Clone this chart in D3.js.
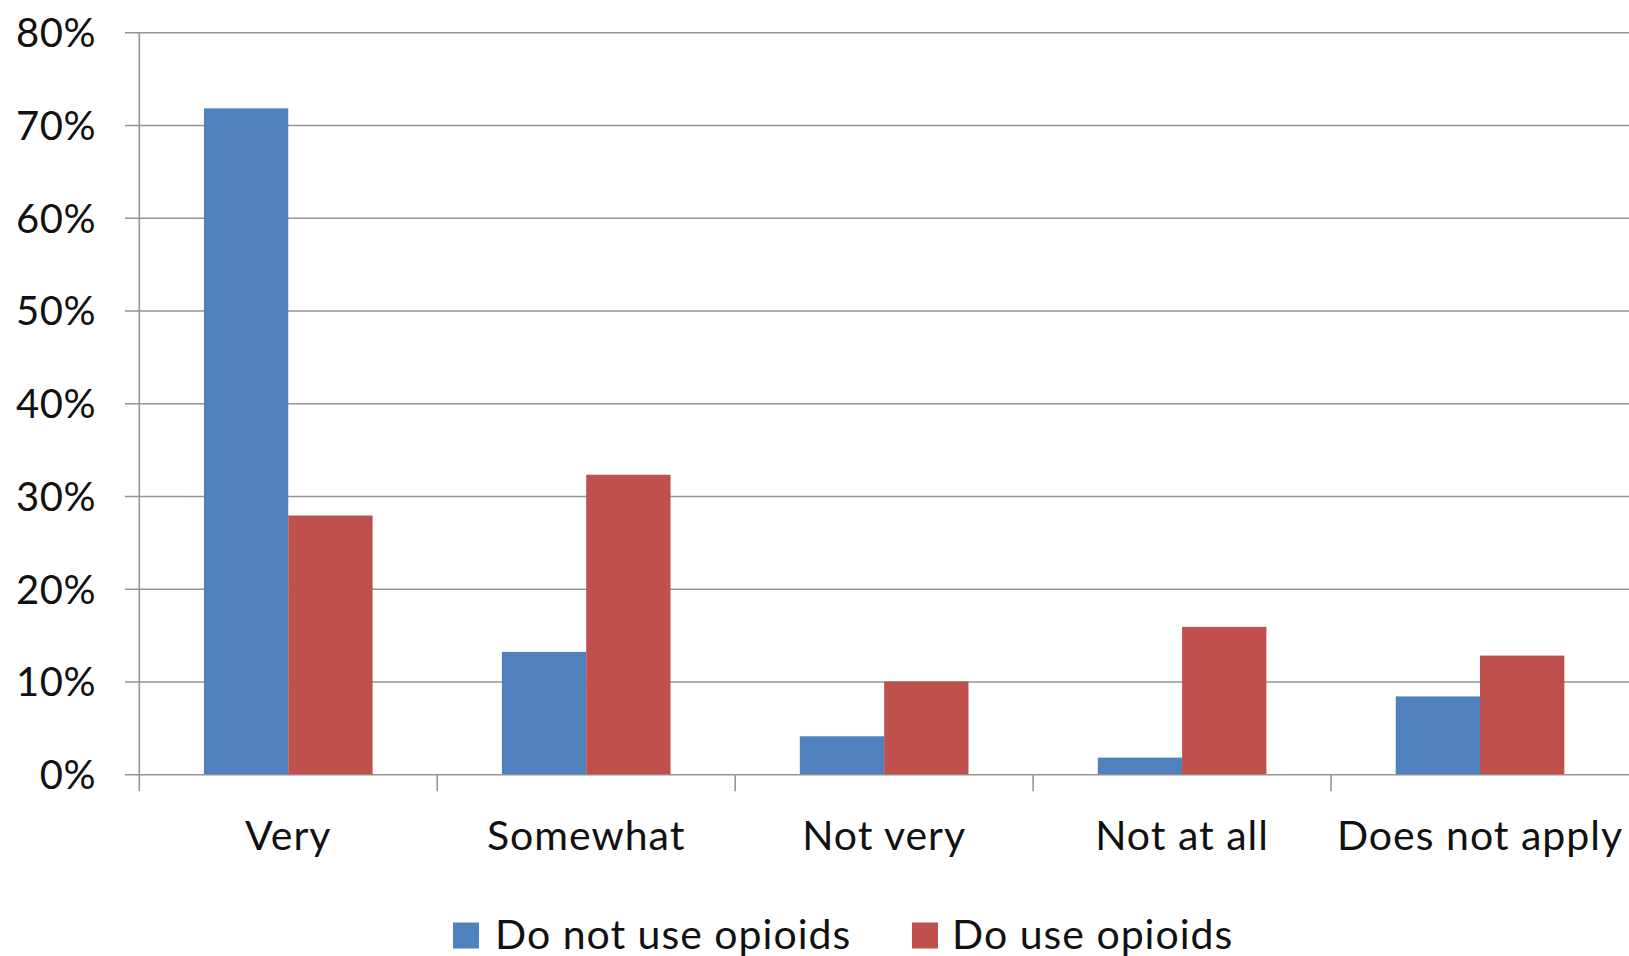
<!DOCTYPE html>
<html>
<head>
<meta charset="utf-8">
<script src="https://cdn.jsdelivr.net/npm/d3@7"></script>
<style>
  html, body { margin: 0; padding: 0; background: #fff; }
  svg { display: block; }
  text { font-family: Lato, "Open Sans", sans-serif; fill: #111; }
</style>
</head>
<body>
<svg id="chart" width="1629" height="956"></svg>
<script>
// Survey answer categories
const categories = ["Very", "Somewhat", "Not very", "Not at all", "Does not apply"];
// Share of respondents (%) per answer
const doNotUseOpioids = [71.8, 13.2, 4.1, 1.8, 8.4];
const doUseOpioids = [27.9, 32.3, 10.0, 15.9, 12.8];
const seriesNames = ["Do not use opioids", "Do use opioids"];
const seriesColors = ["#4F81BD", "#C0504D"];
const yTicks = [0, 10, 20, 30, 40, 50, 60, 70, 80];

const W = 1629, H = 956;
const plotLeft = 139.3, plotRight = 1629, plotTop = 32.3, plotBottom = 774.3;
const fontSize = 41;
const letterSpacing = 1;
const gridColor = "#959595";

const svg = d3.select("#chart");

const x0 = d3.scaleBand().domain(categories).range([plotLeft, plotRight]).padding(0);
const bw = x0.bandwidth();
const x1 = d3.scaleBand().domain(seriesNames).range([bw * 0.217, bw * 0.783]).padding(0);
const y = d3.scaleLinear().domain([0, 80]).range([plotBottom, plotTop]);

// Gridlines + y ticks + y labels
const yAxis = d3.axisLeft(y)
  .tickValues(yTicks)
  .tickFormat(d => d + "%")
  .tickSizeInner(-(plotRight - 125))
  .tickSizeOuter(0)
  .tickPadding(29);

const gy = svg.append("g").attr("transform", "translate(125,0)").call(yAxis);
gy.select(".domain").remove();
gy.selectAll(".tick line").attr("stroke", gridColor).attr("stroke-width", 1.6);
gy.selectAll(".tick text")
  .attr("font-size", 40)
  .attr("font-family", "Lato, sans-serif")
  .attr("fill", "#111")
  .attr("letter-spacing", 0.5)
  .attr("dy", "0.36em");

// Bars
const rows = categories.map((c, i) => ({
  cat: c,
  vals: [
    { name: seriesNames[0], v: doNotUseOpioids[i], color: seriesColors[0] },
    { name: seriesNames[1], v: doUseOpioids[i], color: seriesColors[1] }
  ]
}));

svg.append("g").selectAll("g").data(rows).join("g")
  .attr("transform", d => `translate(${x0(d.cat)},0)`)
  .selectAll("rect").data(d => d.vals).join("rect")
  .attr("x", d => x1(d.name))
  .attr("width", x1.bandwidth())
  .attr("y", d => y(d.v))
  .attr("height", d => y(0) - y(d.v))
  .attr("fill", d => d.color);

// Vertical value axis line
svg.append("line")
  .attr("x1", plotLeft).attr("x2", plotLeft)
  .attr("y1", plotTop).attr("y2", plotBottom + 17)
  .attr("stroke", gridColor).attr("stroke-width", 1.6);

// Category separator ticks
svg.append("g").selectAll("line").data(categories.slice(1)).join("line")
  .attr("x1", d => x0(d)).attr("x2", d => x0(d))
  .attr("y1", plotBottom).attr("y2", plotBottom + 17)
  .attr("stroke", gridColor).attr("stroke-width", 1.6);

// Category labels
const xAxis = d3.axisBottom(x0).tickSize(0).tickPadding(0);
const gx = svg.append("g").attr("transform", `translate(0,${plotBottom})`).call(xAxis);
gx.select(".domain").remove();
gx.selectAll(".tick text")
  .attr("font-size", fontSize)
  .attr("font-family", "Lato, sans-serif")
  .attr("fill", "#111")
  .attr("letter-spacing", letterSpacing)
  .attr("dy", null)
  .attr("y", 76);

// Legend
const legendItems = [
  { name: seriesNames[0], color: seriesColors[0], sx: 453, tx: 495 },
  { name: seriesNames[1], color: seriesColors[1], sx: 912, tx: 952 }
];
const lg = svg.append("g");
legendItems.forEach(it => {
  lg.append("rect").attr("x", it.sx).attr("y", 922.5).attr("width", 26).attr("height", 26).attr("fill", it.color);
  lg.append("text").attr("x", it.tx).attr("y", 949)
    .attr("font-size", fontSize)
    .attr("letter-spacing", letterSpacing)
    .text(it.name);
});
</script>
</body>
</html>
